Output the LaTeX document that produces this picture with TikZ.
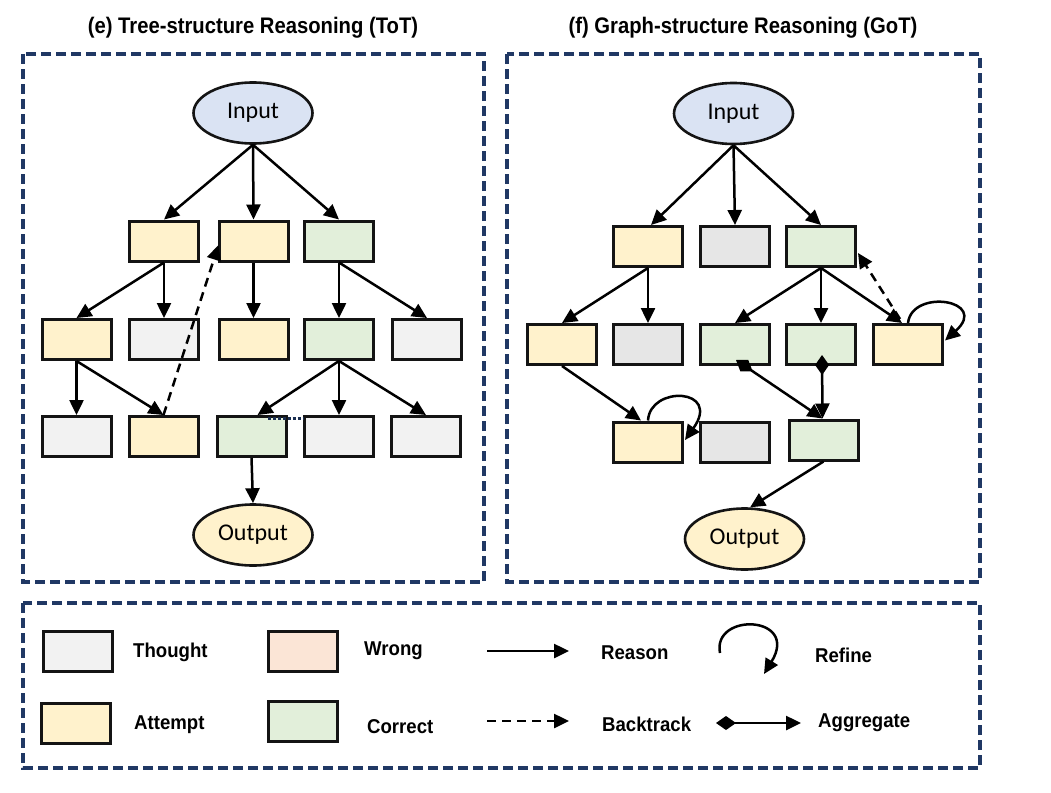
\documentclass[tikz,border=0pt]{standalone}
\usepackage{fontspec}
\setmainfont{Carlito}
\newfontfamily\labfont[FakeStretch=0.93]{Liberation Sans}
\newfontfamily\ttlfont[FakeStretch=0.9]{Liberation Sans}
\usetikzlibrary{arrows.meta,shapes.geometric,calc}
\definecolor{navy}{HTML}{203864}
\definecolor{inblue}{HTML}{DAE3F3}
\definecolor{yel}{HTML}{FFF2CC}
\definecolor{grn}{HTML}{E2EFDA}
\definecolor{lgray}{HTML}{F2F2F2}
\definecolor{dgray}{HTML}{E6E6E6}
\definecolor{wrong}{HTML}{FBE5D6}
\definecolor{edge}{HTML}{141414}
\begin{document}
\begin{tikzpicture}[x=1pt,y=-1pt,
  panel/.style={draw=navy,line width=3.4pt,dash pattern=on 10pt off 5pt},
  box/.style={draw=edge,line width=3pt,minimum width=69pt,minimum height=40pt,inner sep=0pt},
  oval/.style={ellipse,draw=edge,line width=2.6pt,minimum width=119pt,minimum height=61pt,inner sep=0pt,font=\fontsize{24}{26}\selectfont},
  reason/.style={line width=2.5pt,-{Triangle[length=15pt,width=14pt]}},
  back/.style={reason,dash pattern=on 9pt off 6pt},
  aggr/.style={line width=2.5pt,{Diamond[length=20pt,width=14pt]}-{Triangle[length=15pt,width=14pt]}},
  ttl/.style={font=\ttlfont\bfseries\fontsize{22.5}{25}\selectfont},
  lab/.style={anchor=west,inner sep=0pt,font=\labfont\bfseries\fontsize{20}{22}\selectfont}
]
\useasboundingbox (0,0) rectangle (1051,792);
% titles
\node[ttl] (t1) at (253,28) {(e) Tree-structure Reasoning (ToT)};
\node[ttl] (t2) at (743,28) {(f) Graph-structure Reasoning (GoT)};
% panels
\draw[panel] (23,54) rectangle (484,582);
\draw[panel] (507,54) rectangle (980,582);
\draw[panel] (23,603) rectangle (980,768);

% ---------- ToT ----------
\node[oval,fill=inblue] (tin) at (253,113) {Input};
\node[box,fill=yel] (ta) at (164,241) {};
\node[box,fill=yel] (tb) at (253.5,241) {};
\node[box,fill=grn] (tc) at (339,241) {};
\node[box,fill=yel] (t21) at (76.5,339.5) {};
\node[box,fill=lgray] (t22) at (164,339.5) {};
\node[box,fill=yel] (t23) at (253.5,339.5) {};
\node[box,fill=grn] (t24) at (339,339.5) {};
\node[box,fill=lgray] (t25) at (427,339.5) {};
\node[box,fill=lgray] (t31) at (76.5,436.5) {};
\node[box,fill=yel] (t32) at (163.5,436.5) {};
\node[box,fill=grn] (t33) at (251.5,436.5) {};
\node[box,fill=lgray] (t34) at (339,436.5) {};
\node[box,fill=lgray] (t35) at (426,436.5) {};
\node[oval,fill=yel] (tout) at (253,535) {Output};

\draw[reason] (tin.south) -- (ta.north);
\draw[reason] (tin.south) -- (tb.north);
\draw[reason] (tin.south) -- (tc.north);
\draw[reason] (ta.south) -- (t21.north);
\draw[reason] (ta.south) -- (t22.north);
\draw[reason] (tb.south) -- (t23.north);
\draw[reason] (tc.south) -- (t24.north);
\draw[reason] (tc.south) -- (t25.north);
\draw[reason] (t21.south) -- (t31.north);
\draw[reason] (t21.south) -- (t32.north);
\draw[reason] (t24.south) -- ($(t33.north)+(6,0)$);
\draw[reason] (t24.south) -- (t34.north);
\draw[reason] (t24.south) -- (t35.north);
\draw[reason] (t33.south) -- (tout.north);
\draw[back] (t32.north) -- ($(tb.west)+(1,4)$);
\draw[line width=3pt,dotted,navy!80!black] ($(t33.north east)+(-20,3)$) -- ($(t34.north west)+(0,3)$);

% ---------- GoT ----------
\node[oval,fill=inblue] (gin) at (733.5,113.5) {Input};
\node[box,fill=yel] (g1a) at (648,246.5) {};
\node[box,fill=dgray] (g1b) at (735,246.5) {};
\node[box,fill=grn] (g1c) at (821,246.5) {};
\node[box,fill=yel] (g2a) at (562,344.5) {};
\node[box,fill=dgray] (g2b) at (648,344.5) {};
\node[box,fill=grn] (g2c) at (735,344.5) {};
\node[box,fill=grn] (g2d) at (821,344.5) {};
\node[box,fill=yel] (g2e) at (908,344.5) {};
\node[box,fill=yel] (g3a) at (648,442) {};
\node[box,fill=dgray] (g3b) at (735,442) {};
\node[box,fill=grn] (g3c) at (823.5,440) {};
\node[oval,fill=yel] (gout) at (744.5,539) {Output};

\draw[reason] (gin.south) -- ($(g1a.north)+(3,0)$);
\draw[reason] (gin.south) -- (g1b.north);
\draw[reason] (gin.south) -- (g1c.north);
\draw[reason] (g1a.south) -- (g2a.north);
\draw[reason] (g1a.south) -- (g2b.north);
\draw[reason] (g1c.south) -- (g2c.north);
\draw[reason] (g1c.south) -- (g2d.north);
\draw[reason] (g1c.south) -- ($(g2e.north)+(-6,0)$);
\draw[back] ($(g2e.north)+(-8,-4)$) -- ($(g1c.south east)+(1,-15)$);
\draw[reason] (g2e.north) .. controls (912,288) and (990,300) .. ($(g2e.east)+(1,-4)$);
\draw[reason] (g2a.south) -- ($(g3a.north)+(-7,0)$);
\draw[reason] (g3a.north) .. controls (650,385) and (722,388) .. ($(g3a.east)+(1,-2)$);
\draw[aggr] ($(g2c.south)+(1,-6)$) -- ($(g3c.north)+(-1,0)$);
\draw[aggr] ($(g2d.south)+(1,-11)$) -- ($(g3c.north)+(-1,0)$);
\draw[reason] (g3c.south) -- (gout.80);

% ---------- Legend ----------
\node[box,fill=lgray] (lth) at (78,651) {};
\node[box,fill=yel] (lat) at (76,723) {};
\node[box,fill=wrong] (lwr) at (303,651.5) {};
\node[box,fill=grn] (lco) at (303,721) {};
\node[lab] (lthl) at (133,652) {Thought};
\node[lab] (latl) at (134,725) {Attempt};
\node[lab] (lwrl) at (364,651) {Wrong};
\node[lab] (lcol) at (367,727) {Correct};
\node[lab] (lrel) at (601,653) {Reason};
\node[lab] (lbal) at (602,724) {Backtrack};
\node[lab] (lrfl) at (815,655) {Refine};
\node[lab] (lagl) at (818,723) {Aggregate};
\coordinate (r1) at (487,651);
\coordinate (r2) at (569,651);
\coordinate (b1) at (487,721);
\coordinate (b2) at (569,721);
\coordinate (f1) at (720,653);
\coordinate (f2) at (764,674);
\coordinate (a1) at (716,723);
\coordinate (a2) at (801,723);
\draw[reason] (r1) -- (r2);
\draw[back] (b1) -- (b2);
\draw[reason] (f1) .. controls (712,612) and (800,615) .. (f2);
\draw[aggr] (a1) -- (a2);
\end{tikzpicture}
\end{document}
